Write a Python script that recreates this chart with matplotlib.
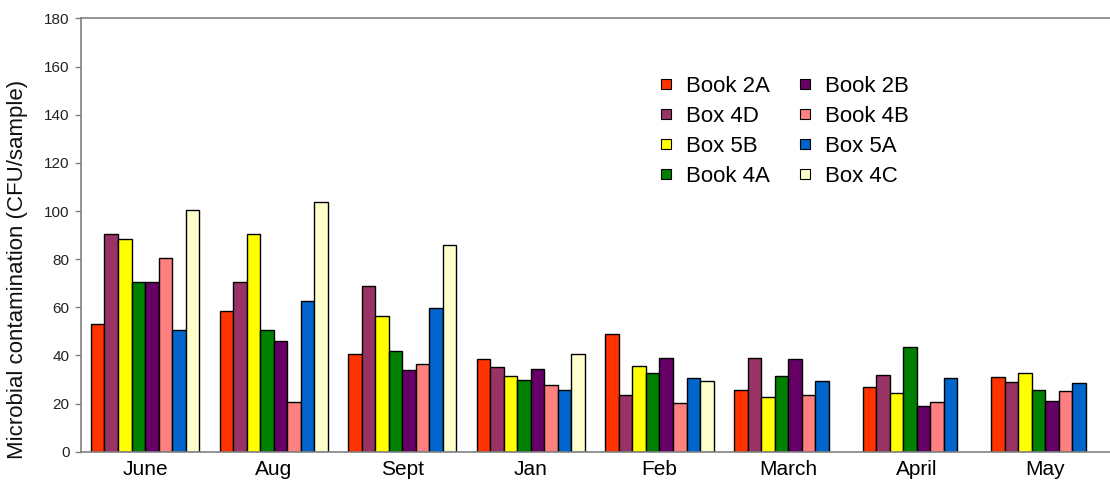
import numpy as np
import matplotlib
matplotlib.use("Agg")
import matplotlib.pyplot as plt
from matplotlib.lines import Line2D

plt.rcParams['font.family'] = ['Liberation Sans', 'DejaVu Sans']

months = ["June", "Aug", "Sept", "Jan", "Feb", "March", "April", "May"]
series_names = ["Book 2A", "Box 4D", "Box 5B", "Book 4A",
                "Book 2B", "Book 4B", "Box 5A", "Box 4C"]
colors = ["#FF3300", "#993366", "#FFFF00", "#008000",
          "#660066", "#FF8080", "#0066CC", "#FFFFCC"]

book_2a = [52.9, 58.6, 40.6, 38.4, 49.0, 25.6, 26.7, 30.9]
box_4d = [90.4, 70.6, 68.7, 35.2, 23.5, 39.0, 32.0, 28.9]
box_5b = [88.3, 90.4, 56.5, 31.4, 35.7, 22.8, 24.5, 32.8]
book_4a = [70.6, 50.5, 41.7, 29.9, 32.7, 31.4, 43.6, 25.6]
book_2b = [70.6, 46.0, 33.8, 34.3, 38.8, 38.4, 19.1, 21.0]
book_4b = [80.4, 20.8, 36.3, 27.7, 20.4, 23.5, 20.5, 25.2]
box_5a = [50.5, 62.7, 59.8, 25.5, 30.5, 29.5, 30.5, 28.4]
box_4c = [100.5, 103.8, 85.7, 40.6, 29.5, np.nan, np.nan, np.nan]

all_series = [book_2a, box_4d, box_5b, book_4a, book_2b, book_4b, box_5a, box_4c]

yticks = [0, 20, 40, 60, 80, 100, 120, 140, 160, 180]

fig = plt.figure(figsize=(11.1, 4.83), dpi=100)
ax = fig.add_axes([0.0727, 0.0648, 0.927, 0.897])

x = np.arange(len(months))
bw = 0.105
n = len(all_series)
for i, (name, vals, c) in enumerate(zip(series_names, all_series, colors)):
    offs = (i - (n - 1) / 2) * bw
    ax.bar(x + offs, vals, width=bw, color=c, edgecolor="black",
           linewidth=1.0, label=name, zorder=2)

ax.set_xlim(-0.5, 7.5)
ax.set_ylim(0, 180)
ax.set_yticks(yticks)
ax.set_yticklabels([str(t) for t in yticks], fontsize=11, color="#222222")
ax.set_xticks(x)
ax.set_xticklabels(months, fontsize=15, color="black")
ax.tick_params(axis="x", length=0, pad=6)
ax.tick_params(axis="y", length=4, width=1, color="#808080", pad=4)

ax.spines["right"].set_visible(False)
for s in ["left", "top", "bottom"]:
    ax.spines[s].set_color("#808080")
    ax.spines[s].set_linewidth(1.2)

ax.set_ylabel("Microbial contamination (CFU/sample)", fontsize=16,
              color="#111111")
ax.yaxis.set_label_coords(-0.051, 0.42)

handles = [Line2D([], [], marker="s", linestyle="none", markersize=7.5,
                  markerfacecolor=c, markeredgecolor="black",
                  markeredgewidth=0.8) for c in colors]

leg = ax.legend(handles, series_names, ncol=2, frameon=False, fontsize=16,
                loc="upper left",
                bbox_to_anchor=(648 / 1110, 1 - 65 / 483),
                bbox_transform=fig.transFigure, borderpad=0,
                handlelength=0.6, handletextpad=0.6,
                labelspacing=0.4, columnspacing=1.3)

fig.savefig("out.png", dpi=100)
